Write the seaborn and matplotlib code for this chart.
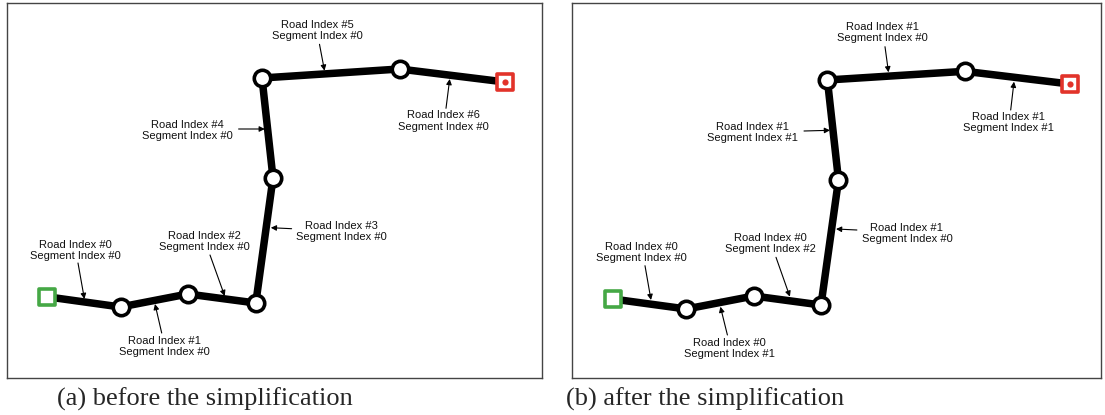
import numpy as np
import pandas as pd
import seaborn as sns
import matplotlib.pyplot as plt

# road polyline vertices (pixel-like coordinates of each panel, y downwards)
path_x_a = [46.5, 120.6, 187.8, 255.8, 273, 262, 399.6, 505]
path_y_a = [296.7, 307, 294, 303, 178, 78, 69, 82]
path_x_b = [612.8, 686.4, 753.8, 821, 838.5, 827.4, 964.9, 1069.7]
path_y_b = [299, 309, 296, 305, 180, 80, 71.3, 84]

road_a = [0, 1, 2, 3, 4, 5, 6]
seg_a = [0, 0, 0, 0, 0, 0, 0]
road_b = [0, 0, 0, 1, 1, 1, 1]
seg_b = [0, 1, 2, 0, 1, 0, 1]

# label centres and arrow tail/head per segment
label_xy_a = [(75, 250.5), (164, 346.3), (204.6, 241.7), (341.7, 231.5),
              (187.8, 130.5), (317.4, 30.3), (443.6, 121)]
tail_a = [(78, 263), (161.7, 333), (210, 255), (291.6, 228.7),
          (238.6, 129), (319.5, 44.3), (446, 108.3)]
head_a = [(84.4, 299), (155, 304), (224.7, 296), (270.8, 227.7),
          (264.8, 129), (324.5, 70.7), (449.7, 79)]

label_xy_b = [(641.6, 252.5), (729.8, 348.5), (770, 243.5), (906.9, 233.5),
              (752.7, 132.5), (882.2, 32.5), (1008, 122.5)]
tail_b = [(645, 265.7), (727.4, 335), (776, 257.3), (856.9, 230),
          (804, 131), (885, 46.7), (1010.7, 110)]
head_b = [(651, 300), (720.4, 306.7), (789.9, 296.7), (836, 229),
          (830, 130.3), (888.5, 72.3), (1014, 81.7)]

captions = ["(a) before the simplification", "(b) after the simplification"]

sns.set_theme(style="white")
plt.rcParams["font.family"] = ["Liberation Sans", "DejaVu Sans"]

W, H = 1105, 415
fig = plt.figure(figsize=(W / 100, H / 100), dpi=100)


def panel(box, xs, ys, roads, segs, label_xy, tails, heads):
    x0, y0, x1, y1 = box
    ax = fig.add_axes([x0 / W, 1 - y1 / H, (x1 - x0) / W, (y1 - y0) / H])
    ax.set_xlim(x0, x1)
    ax.set_ylim(y1, y0)
    ax.set_xticks([])
    ax.set_yticks([])
    for s in ax.spines.values():
        s.set_color("#444444")
        s.set_linewidth(1.0)

    df = pd.DataFrame({"x": xs, "y": ys})
    sns.lineplot(data=df, x="x", y="y", sort=False, estimator=None,
                 color="black", linewidth=5.4, ax=ax, zorder=2)
    sns.scatterplot(data=df.iloc[1:-1], x="x", y="y", s=140, color="white",
                    edgecolor="black", linewidth=2.6, ax=ax, zorder=3)
    # start / end markers
    sns.scatterplot(x=[xs[0]], y=[ys[0]], marker="s", s=120, color="white",
                    edgecolor="#45a845", linewidth=2.6, ax=ax, zorder=4)
    sns.scatterplot(x=[xs[-1]], y=[ys[-1]], marker="s", s=120, color="white",
                    edgecolor="#e2332a", linewidth=2.6, ax=ax, zorder=4)
    ax.scatter([xs[-1]], [ys[-1]], s=20, color="#e2332a", zorder=5, linewidths=0)
    ax.set_xlabel("")
    ax.set_ylabel("")

    for r, sg, (lx, ly), t, h in zip(roads, segs, label_xy, tails, heads):
        ax.text(lx, ly, f"Road Index #{r}\nSegment Index #{sg}", ha="center",
                va="center", fontsize=8, linespacing=1.15, color="#111111")
        ax.annotate("", xy=h, xytext=t,
                    arrowprops=dict(arrowstyle="-|>", color="black", lw=0.8,
                                    mutation_scale=8, shrinkA=0, shrinkB=0))
    return ax


panel((7, 3, 542, 378), path_x_a, path_y_a, road_a, seg_a, label_xy_a, tail_a, head_a)
panel((572, 3, 1101, 378), path_x_b, path_y_b, road_b, seg_b, label_xy_b, tail_b, head_b)

fig.text(57 / W, 1 - 399 / H, captions[0], family=["Liberation Serif", "DejaVu Serif"],
         fontsize=19, va="center", ha="left")
fig.text(566 / W, 1 - 399 / H, captions[1], family=["Liberation Serif", "DejaVu Serif"],
         fontsize=19, va="center", ha="left")

fig.savefig("out.png", dpi=100)
